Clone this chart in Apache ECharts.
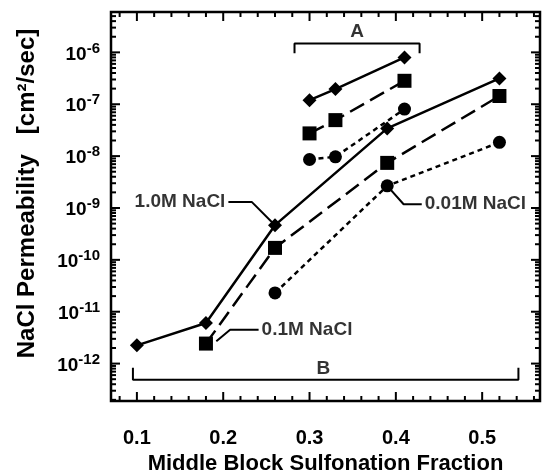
<!DOCTYPE html>
<html><head><meta charset="utf-8">
<script src="https://cdn.jsdelivr.net/npm/echarts@6/dist/echarts.min.js"></script>
<style>html,body{margin:0;padding:0;background:#fff}#c{width:542px;height:471px}</style>
</head><body><div id="c"></div>
<script>
// ---- data ----
const xA = [0.30, 0.33, 0.41];
const a_1M = [1.2e-7, 1.96e-7, 8.0e-7];
const a_01M = [2.74e-8, 4.94e-8, 2.83e-7];
const a_001M = [8.6e-9, 9.7e-9, 8.05e-8];

const xB_1M = [0.10, 0.18, 0.26, 0.39, 0.52];
const b_1M = [2.25e-12, 6.07e-12, 4.66e-10, 3.42e-8, 3.15e-7];
const xB_01M = [0.18, 0.26, 0.39, 0.52];
const b_01M = [2.43e-12, 1.7e-10, 7.4e-9, 1.44e-7];
const xB_001M = [0.26, 0.39, 0.52];
const b_001M = [2.3e-11, 2.67e-9, 1.84e-8];

// annotation geometry in data space
const bracketA_x = [0.2826, 0.2826, 0.4275, 0.4275];
const bracketA_y = [9.6e-7, 1.49e-6, 1.49e-6, 9.6e-7];
const bracketB_x = [0.0954, 0.0954, 0.542, 0.542];
const bracketB_y = [8.3e-13, 4.9e-13, 4.9e-13, 8.3e-13];
const leader1M_x = [0.26, 0.233, 0.206];
const leader1M_y = [4.66e-10, 1.31e-9, 1.31e-9];
const leader01M_x = [0.192, 0.208, 0.241];
const leader01M_y = [2.7e-12, 4.5e-12, 4.5e-12];
const leader001M_x = [0.39, 0.409, 0.430];
const leader001M_y = [2.67e-9, 1.18e-9, 1.18e-9];
const annotationTexts = ['1.0M NaCl', '0.1M NaCl', '0.01M NaCl'];

// axis ticks
const xMajorTicks = [0.1, 0.2, 0.3, 0.4, 0.5];
const xMinorTicks = [0.08, 0.12, 0.14, 0.16, 0.18, 0.22, 0.24, 0.26, 0.28, 0.32, 0.34, 0.36, 0.38, 0.42, 0.44, 0.46, 0.48, 0.52, 0.54, 0.56];
const yDecades = [-13, -12, -11, -10, -9, -8, -7, -6];
const yMantissas = [1, 2, 3, 4, 5, 6, 7, 8, 9];
const X_MIN = 0.07, X_MAX = 0.567, Y_MIN = 1.9e-13, Y_MAX = 6e-6;

const FONT = "'Liberation Sans', Arial, sans-serif";
const zip = (xs, ys) => xs.map((x, i) => [x, ys[i]]);

const yTickData = [];
yDecades.forEach(e => yMantissas.forEach(m => {
  const v = m * Math.pow(10, e);
  if (v >= Y_MIN && v <= Y_MAX) yTickData.push([0.3, v, m === 1 ? 1 : 0]);
}));
const xTickData = xMajorTicks.map(v => [v, 1e-9, 1]).concat(xMinorTicks.map(v => [v, 1e-9, 0]));

function tickLine(x1, y1, x2, y2) {
  return { type: 'line', shape: { x1, y1, x2, y2 }, style: { stroke: '#000', lineWidth: 2 } };
}
function renderXTick(params, api) {
  const p = api.coord([api.value(0), api.value(1)]);
  const cs = params.coordSys, len = api.value(2) ? 9 : 5;
  const b = cs.y + cs.height, t = cs.y;
  return { type: 'group', children: [tickLine(p[0], b, p[0], b - len), tickLine(p[0], t, p[0], t + len)] };
}
function renderYTick(params, api) {
  const p = api.coord([api.value(0), api.value(1)]);
  const cs = params.coordSys, len = api.value(2) ? 9 : 5;
  const l = cs.x, r = cs.x + cs.width;
  return { type: 'group', children: [tickLine(l, p[1], l + len, p[1]), tickLine(r, p[1], r - len, p[1])] };
}

function dataSeries(name, data, symbol, size, dash) {
  return {
    type: 'line', name, data, symbol, symbolSize: size, z: 5,
    itemStyle: { color: '#000' },
    lineStyle: { color: '#000', width: 2.5, type: dash },
    animation: false, silent: true
  };
}
function plainLine(data) {
  return { type: 'line', data, symbol: 'none', showSymbol: false, z: 3,
    lineStyle: { color: '#000', width: 2 }, animation: false, silent: true };
}
const labelFont = { fontFamily: FONT, fontWeight: 'bold', fontSize: 19, color: '#000' };

const DIA = [14, 14], SQ = 14, CIR = 13;
const LONGDASH = [16, 7], SHORTDASH = [5, 4];

const option = {
  animation: false,
  backgroundColor: '#fff',
  grid: { left: 111, right: 2, top: 12, bottom: 70, show: true, borderColor: '#000', borderWidth: 2.5,
    containLabel: false, outerBoundsMode: 'none' },
  xAxis: {
    type: 'value', min: X_MIN, max: X_MAX, splitNumber: 5,
    axisLine: { show: false }, axisTick: { show: false }, splitLine: { show: false },
    axisLabel: { showMinLabel: false, showMaxLabel: false, margin: 27,
      formatter: v => v.toFixed(1), fontFamily: FONT, fontWeight: 'bold', fontSize: 20, color: '#000' },
    name: 'Middle Block Sulfonation Fraction', nameLocation: 'middle', nameGap: 46,
    nameTextStyle: { fontFamily: FONT, fontWeight: 'bold', fontSize: 22, color: '#000' }
  },
  yAxis: {
    type: 'log', min: Y_MIN, max: Y_MAX, logBase: 10,
    axisLine: { show: false }, axisTick: { show: false }, splitLine: { show: false },
    axisLabel: { showMinLabel: false, showMaxLabel: false, margin: 11,
      formatter: v => '{b|10}{s|' + Math.round(Math.log10(v)) + '}',
      rich: {
        b: { fontFamily: FONT, fontWeight: 'bold', fontSize: 19, color: '#000', verticalAlign: 'bottom' },
        s: { fontFamily: FONT, fontWeight: 'bold', fontSize: 15, color: '#000', verticalAlign: 'bottom', padding: [0, 0, 8, 0] }
      } },
    name: 'NaCl Permeability   [cm\u00B2/sec]', nameLocation: 'middle', nameGap: 72,
    nameTextStyle: { fontFamily: FONT, fontWeight: 'bold', fontSize: 24, color: '#000', padding: [0, 0, 0, 26] }
  },
  series: [
    { type: 'custom', renderItem: renderXTick, data: xTickData, silent: true, z: 10, animation: false },
    { type: 'custom', renderItem: renderYTick, data: yTickData, silent: true, z: 10, animation: false },
    dataSeries('A 1.0M', zip(xA, a_1M), 'diamond', DIA, 'solid'),
    dataSeries('A 0.1M', zip(xA, a_01M), 'rect', SQ, LONGDASH),
    dataSeries('A 0.01M', zip(xA, a_001M), 'circle', CIR, SHORTDASH),
    dataSeries('B 1.0M', zip(xB_1M, b_1M), 'diamond', DIA, 'solid'),
    dataSeries('B 0.1M', zip(xB_01M, b_01M), 'rect', SQ, LONGDASH),
    dataSeries('B 0.01M', zip(xB_001M, b_001M), 'circle', CIR, SHORTDASH),
    plainLine(zip(bracketA_x, bracketA_y)),
    plainLine(zip(bracketB_x, bracketB_y)),
    plainLine(zip(leader1M_x, leader1M_y)),
    plainLine(zip(leader01M_x, leader01M_y)),
    plainLine(zip(leader001M_x, leader001M_y)),
    {
      type: 'scatter', symbolSize: 0, silent: true, animation: false, z: 6,
      data: [
        { value: [leader1M_x[2], leader1M_y[2]], label: { formatter: annotationTexts[0], position: 'left', distance: 3 } },
        { value: [leader01M_x[2], leader01M_y[2]], label: { formatter: annotationTexts[1], position: 'right', distance: 3 } },
        { value: [leader001M_x[2], leader001M_y[2]], label: { formatter: annotationTexts[2], position: 'right', distance: 3 } },
        { value: [(bracketA_x[0] + bracketA_x[2]) / 2, bracketA_y[1]], label: { formatter: 'A', position: 'top', distance: 2 } },
        { value: [0.316, bracketB_y[1]], label: { formatter: 'B', position: 'top', distance: 1 } }
      ],
      label: Object.assign({ show: true }, labelFont)
    }
  ]
};
const chart = echarts.init(document.getElementById('c'), null, { renderer: 'canvas' });
chart.setOption(option);
</script></body></html>
